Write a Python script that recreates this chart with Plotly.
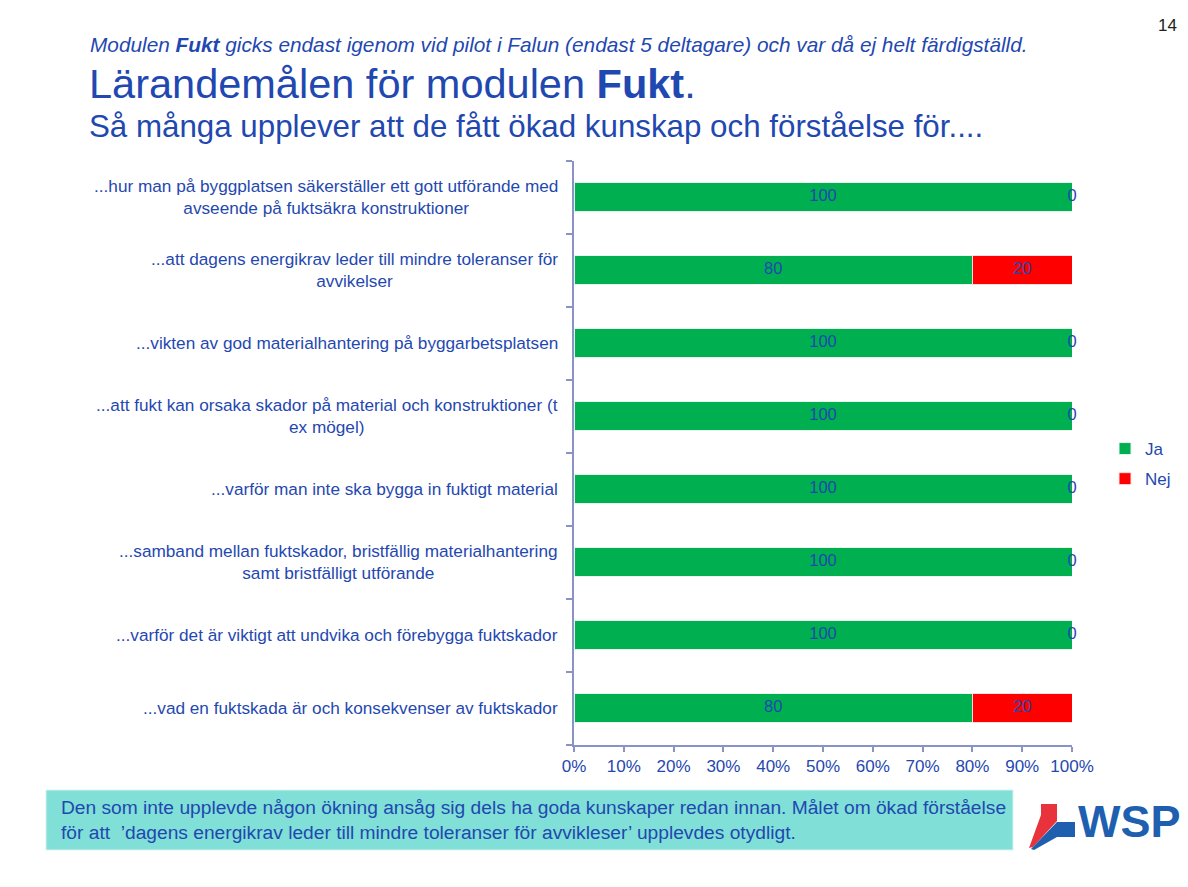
import plotly.graph_objects as go

W, H = 1188, 887

categories = [
    "...hur man på byggplatsen säkerställer ett gott utförande med<br>avseende på fuktsäkra konstruktioner",
    "...att dagens energikrav leder till mindre toleranser för<br>avvikelser",
    "...vikten av god materialhantering på byggarbetsplatsen",
    "...att fukt kan orsaka skador på material och konstruktioner (t<br>ex mögel)",
    "...varför man inte ska bygga in fuktigt material",
    "...samband mellan fuktskador, bristfällig materialhantering<br>samt bristfälligt utförande",
    "...varför det är viktigt att undvika och förebygga fuktskador",
    "...vad en fuktskada är och konsekvenser av fuktskador",
]
ja = [100, 80, 100, 100, 100, 100, 100, 80]
nej = [0, 20, 0, 0, 0, 0, 0, 20]
series_names = ["Ja", "Nej"]

GREEN = "#00B050"
RED = "#FF0000"
BLUE = "#1F48B0"
AXIS = "#8A93C8"
FONT = "Liberation Sans, Arial, sans-serif"

ids = list(range(len(categories)))

fig = go.Figure()
fig.add_trace(go.Bar(
    y=ids, x=ja, name=series_names[0], orientation="h",
    marker=dict(color=GREEN, line=dict(color="#E8F5EC", width=1)),
    width=0.41, hoverinfo="skip", legendgroup="a",
))
fig.add_trace(go.Bar(
    y=ids, x=nej, name=series_names[1], orientation="h",
    marker=dict(color=RED, line=dict(color="#FBE0E0", width=1)),
    width=0.41, hoverinfo="skip", legendgroup="b",
))
# value labels centred on each segment
fig.add_trace(go.Scatter(
    y=ids, x=[v / 2 for v in ja], mode="text", text=[str(v) for v in ja],
    textfont=dict(color=BLUE, size=16.5, family=FONT), showlegend=False, hoverinfo="skip",
    cliponaxis=False,
))
fig.add_trace(go.Scatter(
    y=ids, x=[a + b / 2 for a, b in zip(ja, nej)], mode="text", text=[str(v) for v in nej],
    textfont=dict(color=BLUE, size=16.5, family=FONT), showlegend=False, hoverinfo="skip",
    cliponaxis=False,
))

x0d, x1d = 574 / W, 1072 / W
y0d, y1d = 1 - 744.5 / H, 1 - 160.5 / H

fig.update_layout(
    width=W, height=H, autosize=False,
    margin=dict(l=0, r=0, t=0, b=0, pad=0, autoexpand=False),
    paper_bgcolor="white", plot_bgcolor="white",
    barmode="stack",
    font=dict(family=FONT, color=BLUE, size=16),
    showlegend=True,
    legend=dict(x=1105 / W, y=1 - 431 / H, xanchor="left", yanchor="top",
                font=dict(size=17, color=BLUE, family=FONT),
                traceorder="grouped", tracegroupgap=5, itemwidth=30,
                bgcolor="rgba(0,0,0,0)"),
    xaxis=dict(domain=[x0d, x1d], range=[0, 100], dtick=10, ticksuffix="%",
               showgrid=False, zeroline=False, showline=True, linecolor=AXIS, linewidth=2,
               ticks="outside", ticklen=5, tickcolor=AXIS, tickwidth=2,
               tickfont=dict(size=17, color=BLUE, family=FONT), fixedrange=True),
    yaxis=dict(domain=[y0d, y1d], range=[len(categories) - 0.5, -0.5],
               showgrid=False, zeroline=False, showline=True, linecolor=AXIS, linewidth=2,
               ticks="outside", ticklen=6, tickcolor=AXIS, tickwidth=2,
               tickvals=[i - 0.5 for i in range(len(categories) + 1)],
               showticklabels=False, fixedrange=True),
)

# category labels (right-aligned block, centred lines)
for i, c in enumerate(categories):
    fig.add_annotation(
        x=x0d, xref="paper", y=i, yref="y", text=c, showarrow=False,
        xanchor="right", yanchor="middle", align="center", xshift=-14,
        font=dict(size=17.2, color=BLUE, family=FONT),
    )


def py(v):
    return 1 - v / H


def px(v):
    return v / W


# header texts
fig.add_annotation(x=px(88), y=py(45), xref="paper", yref="paper", xanchor="left", yanchor="middle",
                   text="<i>Modulen <b>Fukt</b> gicks endast igenom vid pilot i Falun (endast 5 deltagare) och var då ej helt färdigställd.</i>",
                   showarrow=False, font=dict(size=20.8, color=BLUE, family=FONT))
fig.add_annotation(x=px(87), y=py(83), xref="paper", yref="paper", xanchor="left", yanchor="middle",
                   text="Lärandemålen för modulen <b>Fukt</b>.",
                   showarrow=False, font=dict(size=41.5, color=BLUE, family=FONT))
fig.add_annotation(x=px(87), y=py(126), xref="paper", yref="paper", xanchor="left", yanchor="middle",
                   text="Så många upplever att de fått ökad kunskap och förståelse för....",
                   showarrow=False, font=dict(size=31.3, color=BLUE, family=FONT))
fig.add_annotation(x=px(1179), y=py(26), xref="paper", yref="paper", xanchor="right", yanchor="middle",
                   text="14", showarrow=False, font=dict(size=17, color="#222222", family=FONT))

# bottom comment box
fig.add_shape(type="rect", xref="paper", yref="paper", x0=px(46), x1=px(1013), y0=py(850), y1=py(790),
              fillcolor="#80DFD6", line=dict(color="#D8F3F0", width=1), layer="below")
fig.add_annotation(x=px(59), y=py(820), xref="paper", yref="paper", xanchor="left", yanchor="middle",
                   align="left", showarrow=False,
                   text="Den som inte upplevde någon ökning ansåg sig dels ha goda kunskaper redan innan. Målet om ökad förståelse<br>för att  ’dagens energikrav leder till mindre toleranser för avvikleser’ upplevdes otydligt.",
                   font=dict(size=19.2, color=BLUE, family=FONT))


# WSP logo
def path(pts):
    return "M" + " L".join(f"{px(a):.5f},{py(b):.5f}" for a, b in pts) + " Z"


fig.add_shape(type="path", xref="paper", yref="paper",
              path=path([(1041, 804), (1057, 804), (1057, 821), (1033, 847), (1029, 848), (1041, 815)]),
              fillcolor="#E8323C", line=dict(width=0))
fig.add_shape(type="path", xref="paper", yref="paper",
              path=path([(1057, 822), (1075, 822), (1075, 837), (1057, 837), (1034, 850), (1031, 849)]),
              fillcolor="#1E5FB0", line=dict(width=0))
fig.add_annotation(x=px(1076), y=py(821), xref="paper", yref="paper", xanchor="left", yanchor="middle",
                   text="<b>WSP</b>", showarrow=False, font=dict(size=45, color="#1E5FB0", family=FONT))

fig.write_html("out.html", config={"displayModeBar": False},
               post_script="document.body.style.margin='0';document.body.style.overflow='hidden';")
